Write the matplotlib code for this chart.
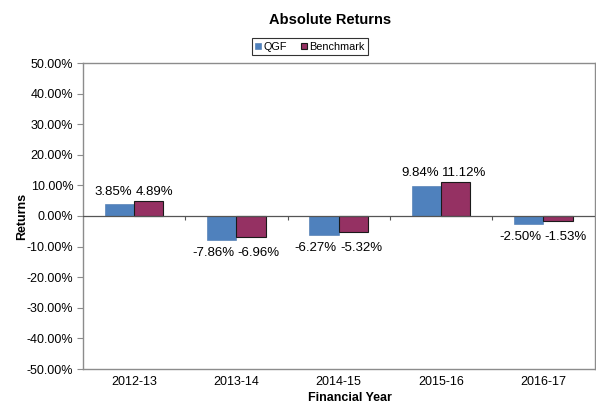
import matplotlib
matplotlib.use("Agg")
import matplotlib.pyplot as plt
import numpy as np
from matplotlib.ticker import FuncFormatter

plt.rcParams['font.family'] = ['Liberation Sans', 'DejaVu Sans']

categories = ["2012-13", "2013-14", "2014-15", "2015-16", "2016-17"]
qgf = [3.85, -7.86, -6.27, 9.84, -2.50]
benchmark = [4.89, -6.96, -5.32, 11.12, -1.53]
yticks = [-50, -40, -30, -20, -10, 0, 10, 20, 30, 40, 50]

W, H = 596, 403
fig = plt.figure(figsize=(W/100, H/100), dpi=100)
L, R, T, B = 83, 594.5, 63, 369
ax = fig.add_axes([L/W, 1 - B/H, (R-L)/W, (B-T)/H])

x = np.arange(len(categories))
w = 0.286
gray = "#8c8c8c"
b1 = ax.bar(x - w/2, qgf, w, color="#4F81BD", edgecolor="#4575ad", linewidth=0.4, zorder=3)
b2 = ax.bar(x + w/2, benchmark, w, color="#953163", edgecolor="#1a1a1a", linewidth=0.8, zorder=3)

lab_fs = 9.5
for i in range(len(categories)):
    a, b = qgf[i], benchmark[i]
    if a >= 0 and b >= 0:
        ly = max(a, b); dy = 2.5; va = "bottom"
    else:
        ly = min(a, b); dy = -5; va = "top"
    ax.annotate(f"{a:.2f}%", (x[i], ly), xytext=(-1.5, dy), textcoords="offset points",
                ha="right", va=va, fontsize=lab_fs)
    ax.annotate(f"{b:.2f}%", (x[i], ly), xytext=(1, dy), textcoords="offset points",
                ha="left", va=va, fontsize=lab_fs)

ax.set_xlim(-0.5, len(categories) - 0.5)
ax.set_ylim(-50, 50)
ax.set_yticks(yticks)
ax.yaxis.set_major_formatter(FuncFormatter(lambda v, p: f"{v:.2f}%"))
ax.tick_params(axis='y', direction='out', length=4, color=gray, labelsize=9, pad=3)
ax.set_xticks(x)
ax.set_xticklabels(categories)
ax.tick_params(axis='x', length=0, labelsize=9, pad=5)

for s in ax.spines.values():
    s.set_color(gray)
    s.set_linewidth(1.0)

ax.axhline(0, color="#555555", linewidth=0.9, zorder=4)
sec = ax.secondary_xaxis(0.5)
sec.set_xticks(x[:-1] + 0.5)
sec.tick_params(axis='x', which='both', bottom=True, top=False, labelbottom=False,
                labeltop=False, direction='out', length=3, color="#555555")
sec.spines['bottom'].set_visible(False)
sec.spines['top'].set_visible(False)

ax.set_ylabel("Returns", fontsize=9, fontweight='bold')
ax.yaxis.set_label_coords((28 - L) / (R - L), 0.5)
ax.set_xlabel("Financial Year", fontsize=9, fontweight='bold')
ax.xaxis.set_label_coords((350 - L) / (R - L), -(392 - B) / (B - T))

fig.text(330/W, 1 - 20/H, "Absolute Returns", ha="center", va="center",
         fontsize=10.5, fontweight='bold')

leg = fig.legend([b1, b2], ["QGF", "Benchmark"], loc="center",
                 bbox_to_anchor=(310/W, 1 - 46.5/H), ncol=2, fontsize=7.8,
                 frameon=True, fancybox=False, edgecolor="black",
                 handlelength=0.5, handleheight=0.5, handletextpad=0.25,
                 columnspacing=1.3, borderpad=0.35)
leg.get_frame().set_linewidth(0.8)

fig.savefig("out.png", dpi=100)
